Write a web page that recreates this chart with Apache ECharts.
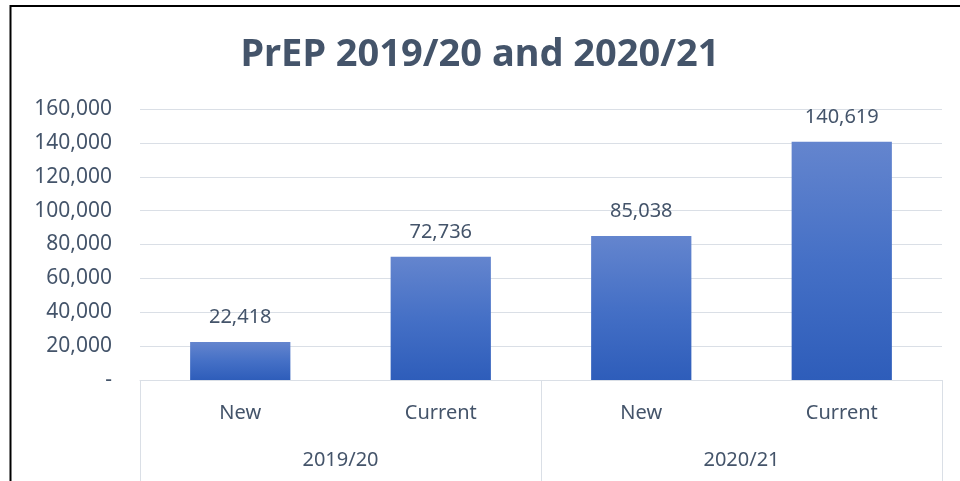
<!DOCTYPE html>
<html>
<head>
<meta charset="utf-8">
<script src="https://cdn.jsdelivr.net/npm/echarts@6/dist/echarts.min.js"></script>
<style>
  html, body { margin: 0; padding: 0; background: #fff; }
  #main { width: 960px; height: 481px; }
</style>
</head>
<body>
<div id="main"></div>
<script>
// data
var titleText = 'PrEP 2019/20 and 2020/21';
var categories = ['New', 'Current', 'New', 'Current'];
var groups = ['2019/20', '2020/21'];
var values = [22418, 72736, 85038, 140619];

var textColor = '#44546A';
var lineColor = '#DADFE6';

var chart = echarts.init(document.getElementById('main'));

chart.setOption({
	backgroundColor: '#fff',
	textStyle: { fontFamily: 'Noto Sans' },
	title: {
		text: titleText,
		left: 'center',
		top: 31,
		textStyle: { fontSize: 38, fontWeight: 'bold', color: textColor, fontFamily: 'Noto Sans' }
	},
	// outer frame, bottom and right edges fall outside the picture
	graphic: [{
		type: 'rect',
		shape: { x: 10.5, y: 6, width: 1000, height: 600 },
		style: { fill: 'none', stroke: '#000', lineWidth: 2 },
		silent: true
	}],
	grid: { left: 140, right: 18, top: 109, bottom: 101, containLabel: false },
	xAxis: [{
		type: 'category',
		data: categories,
		axisLine: { show: true, lineStyle: { color: lineColor, width: 1 } },
		axisTick: { show: false },
		axisLabel: { color: textColor, fontSize: 20, margin: 23 }
	}, {
		type: 'category',
		data: groups,
		position: 'bottom',
		axisLine: { show: false },
		axisTick: { show: true, length: 105, lineStyle: { color: lineColor, width: 1 } },
		axisLabel: { color: textColor, fontSize: 20, margin: 70 },
		splitLine: { show: false }
	}],
	yAxis: {
		type: 'value',
		min: 0,
		max: 160000,
		interval: 20000,
		axisLine: { show: false },
		axisTick: { show: false },
		splitLine: { lineStyle: { color: lineColor, width: 1 } },
		axisLabel: {
			color: textColor,
			fontSize: 21,
			margin: 28,
			formatter: function (v) {
				return v === 0 ? '-' : v.toLocaleString('en-US');
			}
		}
	},
	series: [{
		type: 'bar',
		xAxisIndex: 0,
		data: values,
		barWidth: '50%',
		itemStyle: {
			color: new echarts.graphic.LinearGradient(0, 0, 0, 1, [
				{ offset: 0, color: '#6485CE' },
				{ offset: 0.5, color: '#4570C6' },
				{ offset: 1, color: '#2E5DBA' }
			])
		},
		label: {
			show: true,
			position: 'top',
			distance: 15,
			color: textColor,
			fontSize: 20,
			formatter: function (p) {
				return p.value.toLocaleString('en-US');
			}
		}
	}]
});
</script>
</body>
</html>
